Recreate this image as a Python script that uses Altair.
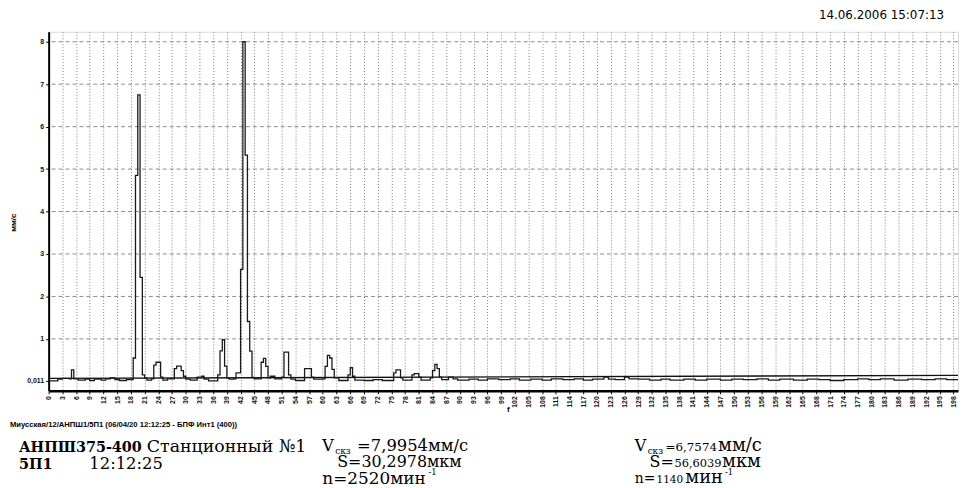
import altair as alt
import pandas as pd

# ---- data ----
freq = [0, 2, 3, 4.5, 5, 5.5, 6.5, 8, 9, 10, 11.5, 12.5, 13.5, 14.5, 15.5, 17,
        18.5, 19, 19.5, 20, 20.5, 21, 21.5, 22.5, 23, 23.5, 24.5, 25, 26,
        27.5, 28, 29, 29.5, 30, 31, 32.5, 33.5, 34, 35, 37, 37.5, 38, 38.5,
        39, 39.5, 40.5, 41, 42, 42.5, 43, 43.5, 44, 44.5, 45, 46.5, 47, 47.5,
        48, 48.5, 49.5, 51, 51.5, 52.5, 53, 54, 56, 57.5, 58, 60, 60.5, 61,
        61.5, 62, 62.5, 63.5, 65.5, 66, 66.5, 67, 69, 71, 73, 75.5, 76, 77,
        77.5, 79.5, 80, 81, 81.5, 83.5, 84, 84.5, 85, 85.5, 86, 87.5, 88.5,
        89.5, 92, 94, 96, 98.5, 101, 103, 105.5, 108, 110, 112.5, 115, 117,
        119, 121.5, 122.5, 124, 126, 127, 129, 131.5, 134, 136, 139, 141.5,
        144, 147, 149.5, 152, 155, 157.5, 160, 163, 166, 168.5, 171, 174,
        177, 179.5, 182, 185, 188, 191, 194, 196.5, 199]
amp = [0.01, 0.05, 0.07, 0.06, 0.27, 0.06, 0.03, 0.05, 0.02, 0.05, 0.03, 0.06, 0.08, 0.04, 0.02, 0.04,
       0.55, 4.85, 6.75, 2.45, 0.15, 0.08, 0.03, 0.06, 0.38, 0.45, 0.10, 0.03, 0.06,
       0.30, 0.36, 0.25, 0.12, 0.05, 0.03, 0.10, 0.12, 0.05, 0.01, 0.15, 0.72, 0.98, 0.36,
       0.08, 0.05, 0.06, 0.20, 2.64, 8.00, 5.33, 1.41, 0.71, 0.09, 0.06, 0.45, 0.54, 0.35,
       0.08, 0.12, 0.06, 0.10, 0.69, 0.15, 0.05, 0.02, 0.30, 0.10, 0.05, 0.06, 0.35, 0.61,
       0.55, 0.28, 0.08, 0.02, 0.15, 0.32, 0.12, 0.03, 0.02, 0.04, 0.02, 0.20, 0.27, 0.08,
       0.03, 0.15, 0.18, 0.10, 0.03, 0.08, 0.25, 0.40, 0.30, 0.10, 0.04, 0.10, 0.06,
       0.03, 0.05, 0.03, 0.06, 0.04, 0.06, 0.03, 0.05, 0.03, 0.06, 0.04, 0.06, 0.03,
       0.05, 0.10, 0.05, 0.04, 0.10, 0.06, 0.05, 0.03, 0.05, 0.03, 0.05, 0.03,
       0.05, 0.03, 0.05, 0.04, 0.06, 0.03, 0.05, 0.03, 0.05, 0.04, 0.02, 0.04,
       0.06, 0.04, 0.06, 0.03, 0.05, 0.04, 0.06, 0.04, 0.04]

threshold_f = [0, 199]
threshold_v = [0.07, 0.14]

x_ticks = list(range(0, 199, 3))
y_ticks = [0.011, 1, 2, 3, 4, 5, 6, 7, 8]
grid_levels = [1, 2, 3, 4, 5, 6, 7, 8]

W, H = 917, 362
PL, PT = 41, 22   # plot origin inside the page (after the 8px margin)

spec = pd.DataFrame({"f": freq, "v": amp})
thr = pd.DataFrame({"f": threshold_f, "v": threshold_v})
grid_df = pd.DataFrame({"v": grid_levels})

xscale = alt.Scale(domain=[0, 199], nice=False, zero=False)
yscale = alt.Scale(domain=[-0.223, 8.234], nice=False, zero=False)

SANS = "Liberation Sans"
SERIF = "DejaVu Serif"

x_axis = alt.Axis(values=x_ticks, labelAngle=270, labelFontSize=7, labelFontWeight="bold",
                  labelFont=SANS, labelColor="#111", labelPadding=2, labelOverlap=False,
                  labelFlush=False, tickSize=3, tickColor="#000", domainColor="#000",
                  domainWidth=2.5, grid=True, gridDash=[1, 2], gridColor="#707070",
                  gridWidth=0.9, title="f", titleFont=SANS, titleFontSize=8,
                  titleFontWeight="bold", titleX=463, titleY=19, titleBaseline="middle",
                  titleAlign="center")
y_axis = alt.Axis(values=y_ticks,
                  labelExpr="datum.value < 0.5 ? '0,011' : format(datum.value, 'd')",
                  labelFontSize=7, labelFontWeight="bold", labelFont=SANS, labelColor="#111",
                  labelPadding=2, tickSize=3, tickColor="#000", domainColor="#000",
                  domainWidth=2, grid=False, title="мм/с", titleFont=SANS, titleFontSize=8,
                  titleFontWeight="bold", titleAngle=270, titleX=-35, titleY=192,
                  titleAlign="center", titleBaseline="middle")

hgrid = alt.Chart(grid_df).mark_rule(color="#707070", strokeWidth=0.8, strokeDash=[4, 3]).encode(
    y=alt.Y("v:Q", scale=yscale, axis=y_axis)
)

thr_line = alt.Chart(thr).mark_line(color="#111111", strokeWidth=1.4).encode(
    x=alt.X("f:Q", scale=xscale, axis=x_axis),
    y=alt.Y("v:Q", scale=yscale, axis=y_axis),
)

line = alt.Chart(spec).mark_line(interpolate="step-after", color="#1a1a1a", strokeWidth=1.3).encode(
    x=alt.X("f:Q", scale=xscale, axis=x_axis),
    y=alt.Y("v:Q", scale=yscale, axis=y_axis),
)


def txt(s, px, py, size, weight="normal", font=SANS, align="left", baseline="alphabetic"):
    return alt.Chart(pd.DataFrame({"t": [s]})).mark_text(
        fontSize=size, fontWeight=weight, font=font, align=align, baseline=baseline, color="#000"
    ).encode(x=alt.value(px - 49), y=alt.value(py - 30), text="t:N")


texts = [
    txt("14.06.2006 15:07:13", 952, 17, 12, font="DejaVu Sans", align="right"),
    txt("Миусская/12/АНПШ1/5П1 (06/04/20 12:12:25 - БПФ Инт1 (400))", 10, 428, 7.7, "bold"),
    txt("АНПШ375-400", 19, 454, 14.5, "bold", SERIF),
    txt("Станционный №1", 148, 454, 17.5, "normal", SERIF),
    txt("5П1", 19, 471, 14.5, "bold", SERIF),
    txt("12:12:25", 90, 471, 16.5, "normal", SERIF),
    # column 1
    txt("V", 325, 453, 16, "normal", SERIF),
    txt("скз", 338, 456, 9, "normal", SERIF),
    txt("=7,9954мм/с", 360, 453, 16.5, "normal", SERIF),
    txt("S=30,2978мкм", 340, 469, 16, "normal", SERIF),
    txt("n=2520мин", 325, 486, 17, "normal", SERIF),
    txt("-1", 432, 477, 8.5, "normal", SERIF),
    # column 2
    txt("V", 640, 453, 16, "normal", SERIF),
    txt("скз", 653, 456, 9, "normal", SERIF),
    txt("=6,7574", 671, 453, 12, "normal", SERIF),
    txt("мм/с", 724, 453, 18, "normal", SERIF),
    txt("S=", 655, 469, 16, "normal", SERIF),
    txt("56,6039", 680, 469, 11.5, "normal", SERIF),
    txt("мкм", 728, 469, 18, "normal", SERIF),
    txt("n=", 640, 485, 14, "normal", SERIF),
    txt("1140", 662, 485, 10.5, "normal", SERIF),
    txt("мин", 691, 485, 18, "normal", SERIF),
    txt("-1", 731, 477, 8.5, "normal", SERIF),
]

chart = alt.layer(hgrid, thr_line, line, *texts).properties(
    width=W, height=H,
    padding={"left": PL, "top": PT, "right": 3, "bottom": 96},
    autosize=alt.AutoSizeParams(type="none"),
).configure_view(stroke="#444444", strokeWidth=1).configure(background="white")

chart.save("out.html", embed_options={"renderer": "svg", "actions": False})
